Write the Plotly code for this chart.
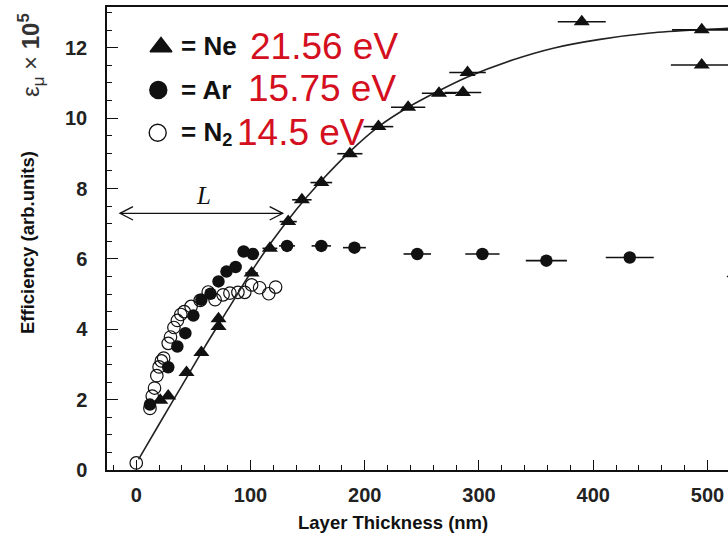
import plotly.graph_objects as go

# ---------------- data ----------------
ne_x = [21, 28, 44, 57, 72, 72, 101, 117, 133, 145, 162, 187, 212, 238, 265, 286, 290, 390, 495, 495]
ne_y = [1.98, 2.1, 2.77, 3.34, 4.3, 4.08, 5.6, 6.3, 7.06, 7.68, 8.17, 8.99, 9.76, 10.31, 10.71, 10.73, 11.3, 12.74, 12.51, 11.51]
ne_err = [1, 1.5, 2.4, 3, 4, 4, 5.5, 6.5, 7.5, 8.5, 9.5, 11, 13, 15, 15, 16, 16, 21, 26, 27]

ar_x = [12, 28, 36, 43, 50, 57, 65, 72, 79, 87, 94, 102, 132, 162, 191, 246, 303, 359, 432, 545]
ar_y = [1.86, 2.92, 3.51, 3.89, 4.39, 4.84, 5.01, 5.36, 5.64, 5.77, 6.21, 6.14, 6.37, 6.37, 6.32, 6.14, 6.14, 5.95, 6.04, 5.5]
ar_err = [0.7, 1.5, 2, 2.4, 2.8, 3, 3.5, 4, 4.3, 4.8, 5.2, 5.6, 7, 8.5, 10, 12, 15, 18, 21, 28]

n2_x = [0, 12, 14, 16, 18, 20, 22, 24, 28, 30, 33, 36, 39, 42, 48, 56, 63, 69, 76, 82, 89, 95, 101, 108, 116, 122]
n2_y = [0.2, 1.75, 2.1, 2.33, 2.68, 2.93, 3.1, 3.18, 3.6, 3.78, 4.05, 4.25, 4.42, 4.5, 4.65, 4.82, 5.06, 4.84, 4.98, 5.03, 5.05, 5.05, 5.26, 5.18, 5.01, 5.2]

fit_x = [2, 20, 40, 60, 80, 100, 120, 140, 160, 187, 213, 238, 265, 290, 330, 365, 406, 450, 496, 520]
fit_y = [0.3, 1.3, 2.4, 3.5, 4.55, 5.6, 6.55, 7.4, 8.15, 9.05, 9.78, 10.31, 10.78, 11.17, 11.66, 11.99, 12.24, 12.42, 12.52, 12.56]

x_ticks = [0, 100, 200, 300, 400, 500]
y_ticks = [0, 2, 4, 6, 8, 10, 12]

legend_names = ["= Ne", "= Ar", "= N<sub>2</sub>"]
legend_energies = ["21.56 eV", "15.75 eV", "14.5 eV"]

# ---------------- layout helpers ----------------
W, H = 728, 537
ML, MR, MT, MB = 107, 0, 7, 67
XR = [-25.6, 518]
YR = [0, 13.16]
PW = W - ML - MR
PH = H - MT - MB


def fx(px):
    return (px - ML) / PW


def fy(py):
    return (H - MB - py) / PH


def dx(px):
    return XR[0] + fx(px) * (XR[1] - XR[0])


def dy(py):
    return YR[0] + fy(py) * (YR[1] - YR[0])


BLACK = "#111111"
RED = "#d40f1e"
SANS = "Liberation Sans, Arial, sans-serif"

fig = go.Figure()

# N2 open circles
fig.add_trace(go.Scatter(
    x=n2_x, y=n2_y, mode="markers",
    marker=dict(symbol="circle-open", size=12.5, color=BLACK, line=dict(width=1.2, color=BLACK)),
    showlegend=False))

# Ar filled circles
fig.add_trace(go.Scatter(
    x=ar_x, y=ar_y, mode="markers",
    marker=dict(symbol="circle", size=12.5, color=BLACK),
    error_x=dict(type="data", array=ar_err, color=BLACK, thickness=1.6, width=0),
    showlegend=False, cliponaxis=True))

# fit line
fig.add_trace(go.Scatter(
    x=fit_x, y=fit_y, mode="lines", line=dict(color="#222222", width=1.6, shape="spline", smoothing=0.8),
    showlegend=False))

# Ne triangles
fig.add_trace(go.Scatter(
    x=ne_x, y=ne_y, mode="markers",
    marker=dict(symbol="triangle-up", size=14, color=BLACK),
    error_x=dict(type="data", array=ne_err, color=BLACK, thickness=1.6, width=0),
    showlegend=False))

# legend markers (layout positions)
leg_px = [(161, 47), (158.3, 90), (157.7, 132.7)]
leg_sym = ["triangle-up", "circle", "circle-open"]
leg_size = [19, 17, 17]
for (px, py), s, sz in zip(leg_px, leg_sym, leg_size):
    fig.add_trace(go.Scatter(
        x=[dx(px)], y=[dy(py)], mode="markers",
        marker=dict(symbol=s, size=sz, color=BLACK, line=dict(width=1.4, color=BLACK)),
        showlegend=False, cliponaxis=False))

annotations = []
name_pos = [(179, 46), (179, 90), (179, 133)]
en_pos = [(248, 46), (246, 88), (235, 132)]
for name, en, (npx, npy), (epx, epy) in zip(legend_names, legend_energies, name_pos, en_pos):
    annotations.append(dict(
        x=fx(npx), y=fy(npy), xref="paper", yref="paper", xanchor="left", yanchor="middle",
        text="<b>" + name + "</b>", showarrow=False,
        font=dict(family=SANS, size=26, color=BLACK)))
    annotations.append(dict(
        x=fx(epx), y=fy(epy), xref="paper", yref="paper", xanchor="left", yanchor="middle",
        text=en, showarrow=False,
        font=dict(family=SANS, size=37, color=RED)))

# axis titles
annotations.append(dict(
    x=fx(393), y=fy(522), xref="paper", yref="paper", xanchor="center", yanchor="middle",
    text="<b>Layer Thickness (nm)</b>", showarrow=False,
    font=dict(family=SANS, size=18.5, color=BLACK)))
annotations.append(dict(
    x=fx(27), y=fy(243), xref="paper", yref="paper", xanchor="center", yanchor="middle",
    text="<b>Efficiency (arb.units)</b>", showarrow=False, textangle=-90,
    font=dict(family=SANS, size=18.5, color=BLACK)))
annotations.append(dict(
    x=fx(31), y=fy(55), xref="paper", yref="paper", xanchor="center", yanchor="middle",
    text="ε<sub>μ</sub> × <b>10<sup>5</sup></b>", showarrow=False, textangle=-90,
    font=dict(family=SANS, size=24, color="#333333")))
# L label
annotations.append(dict(
    x=fx(203), y=fy(196), xref="paper", yref="paper", xanchor="center", yanchor="middle",
    text="<i>L</i>", showarrow=False,
    font=dict(family="Liberation Serif, Times New Roman, serif", size=25, color=BLACK)))

# double arrow for L
ay_ = 213.3
x1, x2 = 120, 282.7
shapes = [
    dict(type="line", xref="paper", yref="paper", x0=fx(x1), x1=fx(x2), y0=fy(ay_), y1=fy(ay_),
         line=dict(color=BLACK, width=1.3)),
    dict(type="path", xref="paper", yref="paper",
         path=f"M{fx(x1+13)},{fy(ay_-6.7)} L{fx(x1)},{fy(ay_)} L{fx(x1+13)},{fy(ay_+6.7)}",
         line=dict(color=BLACK, width=1.3)),
    dict(type="path", xref="paper", yref="paper",
         path=f"M{fx(x2-13)},{fy(ay_-6.7)} L{fx(x2)},{fy(ay_)} L{fx(x2-13)},{fy(ay_+6.7)}",
         line=dict(color=BLACK, width=1.3)),
]

fig.update_layout(
    width=W, height=H,
    margin=dict(l=ML, r=MR, t=MT, b=MB, pad=0),
    paper_bgcolor="white", plot_bgcolor="white",
    annotations=annotations, shapes=shapes,
    xaxis=dict(
        range=XR, showgrid=False, zeroline=False, showline=True, linecolor=BLACK, linewidth=1.5,
        mirror=True, ticks="inside", ticklen=10, tickwidth=1.3, tickcolor=BLACK,
        tickvals=x_ticks, ticktext=[str(v) for v in x_ticks], ticklabelstandoff=6,
        tickfont=dict(family=SANS, size=20, color="#222222", weight="bold"),
        minor=dict(dtick=20, tick0=0, ticks="inside", ticklen=5.5, tickwidth=1.2, tickcolor=BLACK, showgrid=False),
    ),
    yaxis=dict(
        range=YR, showgrid=False, zeroline=False, showline=True, linecolor=BLACK, linewidth=1.5,
        ticks="inside", ticklen=11, tickwidth=1.3, tickcolor=BLACK,
        tickvals=y_ticks, ticktext=[str(v) for v in y_ticks], ticklabelstandoff=14,
        tickfont=dict(family=SANS, size=20, color="#222222", weight="bold"),
        minor=dict(dtick=0.5, tick0=0, ticks="inside", ticklen=5, tickwidth=1.2, tickcolor=BLACK, showgrid=False),
    ),
)

fig.write_html("out.html")
